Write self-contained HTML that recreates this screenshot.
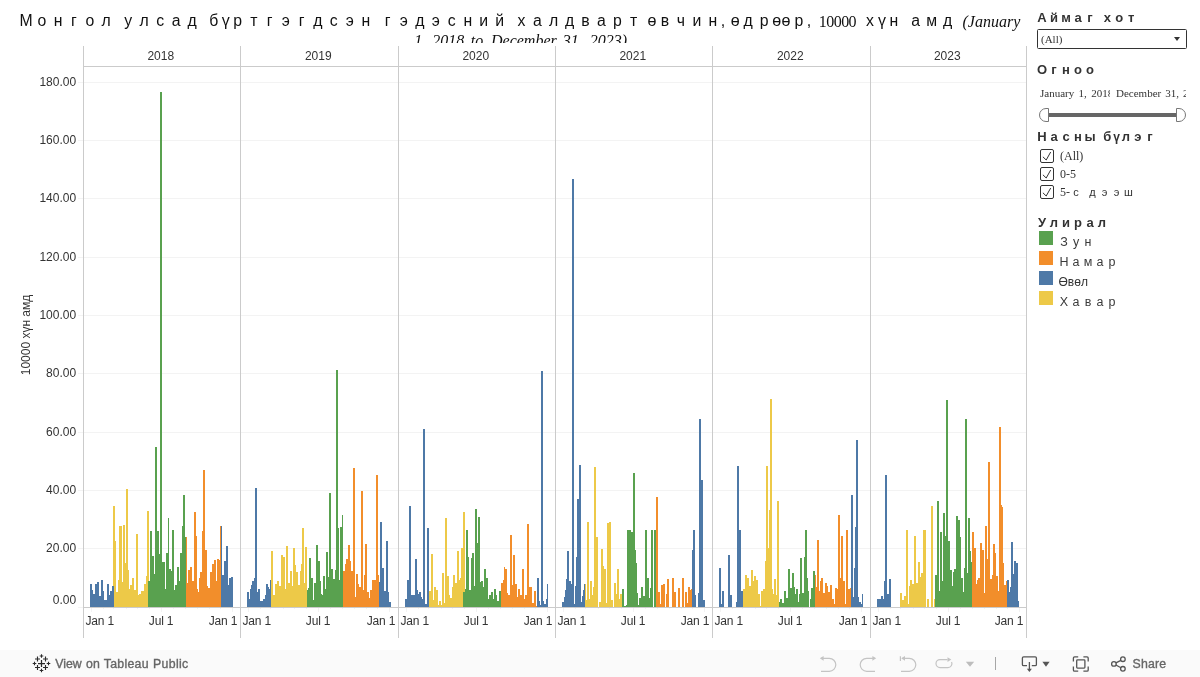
<!DOCTYPE html>
<html><head><meta charset="utf-8"><title>Tableau</title>
<style>
html,body{margin:0;padding:0;background:#fff;}
body{width:1200px;height:677px;position:relative;overflow:hidden;font-family:"Liberation Sans",sans-serif;color:#333;}
.w{position:absolute;white-space:nowrap;line-height:20px;height:20px;}
.fw{display:inline-block;text-align:center;}
.pr{display:inline-block;}
#title{position:absolute;left:0;top:0;width:1037px;height:43px;overflow:hidden;color:#111;}
.ser{font-family:"Liberation Serif",serif;}
.vl{position:absolute;width:1px;background:#cbcbcb;z-index:2;}
.hl{position:absolute;height:1px;background:#cbcbcb;}
.gl{position:absolute;height:1px;background:#f3f3f3;left:78px;width:948px;}
.yl{position:absolute;left:21.1px;width:55px;text-align:right;font-size:12px;line-height:14px;color:#333;}
.yr{position:absolute;font-size:12px;line-height:14px;color:#333;text-align:center;}
.xl{position:absolute;font-size:12px;letter-spacing:-0.15px;line-height:14px;color:#333;white-space:nowrap;top:614.4px;}
.sb{position:absolute;font-weight:bold;color:#333;white-space:nowrap;line-height:14px;}
.st{position:absolute;font-family:"Liberation Serif",serif;font-size:11px;color:#333;white-space:nowrap;line-height:14px;}
.cb{position:absolute;left:1040px;width:12px;height:12px;border:1px solid #333;border-radius:2px;background:#fff;}
.sw{position:absolute;left:1039px;width:14px;height:14px;}
#tb{position:absolute;left:0;top:650px;width:1200px;height:27px;background:#fafafa;}
#root{position:absolute;left:0;top:0;width:1200px;height:677px;will-change:transform;}
</style></head><body><div id="root">
<div id="title"><div class="w " style="left:18px;top:11.3px"><span class="fw" style="width:16px;font-size:15.8px">М</span><span class="fw" style="width:16px;font-size:15.8px">о</span><span class="fw" style="width:16px;font-size:15.8px">н</span><span class="fw" style="width:16px;font-size:15.8px">г</span><span class="fw" style="width:16px;font-size:15.8px">о</span><span class="fw" style="width:16px;font-size:15.8px">л</span></div><div class="w " style="left:120.2px;top:11.3px"><span class="fw" style="width:16px;font-size:15.8px">у</span><span class="fw" style="width:16px;font-size:15.8px">л</span><span class="fw" style="width:16px;font-size:15.8px">с</span><span class="fw" style="width:16px;font-size:15.8px">а</span><span class="fw" style="width:16px;font-size:15.8px">д</span></div><div class="w " style="left:205.75px;top:11.3px"><span class="fw" style="width:16px;font-size:15.8px">б</span><span class="pr" style="font-size:16px">ү</span><span class="fw" style="width:16px;font-size:15.8px">р</span><span class="fw" style="width:16px;font-size:15.8px">т</span><span class="fw" style="width:16px;font-size:15.8px">г</span><span class="fw" style="width:16px;font-size:15.8px">э</span><span class="fw" style="width:16px;font-size:15.8px">г</span><span class="fw" style="width:16px;font-size:15.8px">д</span><span class="fw" style="width:16px;font-size:15.8px">с</span><span class="fw" style="width:16px;font-size:15.8px">э</span><span class="fw" style="width:16px;font-size:15.8px">н</span></div><div class="w " style="left:379.75px;top:11.3px"><span class="fw" style="width:16px;font-size:15.8px">г</span><span class="fw" style="width:16px;font-size:15.8px">э</span><span class="fw" style="width:16px;font-size:15.8px">д</span><span class="fw" style="width:16px;font-size:15.8px">э</span><span class="fw" style="width:16px;font-size:15.8px">с</span><span class="fw" style="width:16px;font-size:15.8px">н</span><span class="fw" style="width:16px;font-size:15.8px">и</span><span class="fw" style="width:16px;font-size:15.8px">й</span></div><div class="w " style="left:513.5px;top:11.3px"><span class="fw" style="width:16px;font-size:15.8px">х</span><span class="fw" style="width:16px;font-size:15.8px">а</span><span class="fw" style="width:16px;font-size:15.8px">л</span><span class="fw" style="width:16px;font-size:15.8px">д</span><span class="fw" style="width:16px;font-size:15.8px">в</span><span class="fw" style="width:16px;font-size:15.8px">а</span><span class="fw" style="width:16px;font-size:15.8px">р</span><span class="fw" style="width:16px;font-size:15.8px">т</span></div><div class="w " style="left:647.5px;top:11.3px"><span class="pr" style="font-size:16px;width:9.33px">ө</span><span class="fw" style="width:16px;font-size:15.8px">в</span><span class="fw" style="width:16px;font-size:15.8px">ч</span><span class="fw" style="width:16px;font-size:15.8px">и</span><span class="fw" style="width:16px;font-size:15.8px">н</span><span class="pr" style="font-size:16px">,</span></div><div class="w " style="left:730.8px;top:11.3px"><span class="pr" style="font-size:16px;width:9.33px">ө</span><span class="fw" style="width:16px;font-size:15.8px">д</span><span class="fw" style="width:16px;font-size:15.8px">р</span><span class="pr" style="font-size:16px;width:9.33px">ө</span><span class="pr" style="font-size:16px;width:9.33px">ө</span><span class="fw" style="width:16px;font-size:15.8px">р</span><span class="pr" style="font-size:16px">,</span></div><div class="w " style="left:818.8px;top:11.8px"><span class="ser" style="font-size:16px;letter-spacing:-0.55px">10000</span></div><div class="w " style="left:861.9px;top:11.3px"><span class="fw" style="width:16px;font-size:15.8px">х</span><span class="pr" style="font-size:16px">ү</span><span class="fw" style="width:16px;font-size:15.8px">н</span></div><div class="w " style="left:907.6px;top:11.3px"><span class="fw" style="width:16px;font-size:15.8px">а</span><span class="fw" style="width:16px;font-size:15.8px">м</span><span class="fw" style="width:16px;font-size:15.8px">д</span></div><div class="w " style="left:962.5px;top:12.0px"><span class="ser" style="font-size:16px;font-style:italic">(January</span></div><div class="w " style="left:414.3px;top:30.6px"><span class="ser" style="font-size:16px;font-style:italic">1,</span></div><div class="w " style="left:432.3px;top:30.6px"><span class="ser" style="font-size:16px;font-style:italic">2018</span></div><div class="w " style="left:470.7px;top:30.6px"><span class="ser" style="font-size:16px;font-style:italic">to</span></div><div class="w " style="left:491px;top:30.6px"><span class="ser" style="font-size:16px;font-style:italic">December</span></div><div class="w " style="left:562.7px;top:30.6px"><span class="ser" style="font-size:16px;font-style:italic">31,</span></div><div class="w " style="left:589.7px;top:30.6px"><span class="ser" style="font-size:16px;font-style:italic">2023)</span></div></div>
<div class="vl" style="left:83px;top:46px;height:592px"></div><div class="vl" style="left:240px;top:46px;height:592px"></div><div class="vl" style="left:398px;top:46px;height:592px"></div><div class="vl" style="left:555px;top:46px;height:592px"></div><div class="vl" style="left:712px;top:46px;height:592px"></div><div class="vl" style="left:870px;top:46px;height:592px"></div><div class="vl" style="left:1026px;top:46px;height:592px"></div><div class="hl" style="left:83px;top:66px;width:944px"></div><div class="yl" style="top:593.0px">0.00</div><div class="gl" style="top:548px"></div><div class="yl" style="top:541.3px">20.00</div><div class="gl" style="top:490px"></div><div class="yl" style="top:483.3px">40.00</div><div class="gl" style="top:432px"></div><div class="yl" style="top:425.3px">60.00</div><div class="gl" style="top:373px"></div><div class="yl" style="top:366.3px">80.00</div><div class="gl" style="top:315px"></div><div class="yl" style="top:308.3px">100.00</div><div class="gl" style="top:257px"></div><div class="yl" style="top:250.3px">120.00</div><div class="gl" style="top:198px"></div><div class="yl" style="top:191.3px">140.00</div><div class="gl" style="top:140px"></div><div class="yl" style="top:133.3px">160.00</div><div class="gl" style="top:82px"></div><div class="yl" style="top:75.3px">180.00</div><div class="gl" style="top:607px;width:6px"></div><div class="hl" style="left:83px;top:607px;width:944px"></div><div class="yr" style="left:82.3px;width:157px;top:49px">2018</div><div class="yr" style="left:239.3px;width:158px;top:49px">2019</div><div class="yr" style="left:397.3px;width:157px;top:49px">2020</div><div class="yr" style="left:554.3px;width:157px;top:49px">2021</div><div class="yr" style="left:711.3px;width:158px;top:49px">2022</div><div class="yr" style="left:869.3px;width:156px;top:49px">2023</div><div class="xl" style="left:85.5px">Jan 1</div><div class="xl" style="left:148.8px">Jul 1</div><div class="xl" style="left:208.7px">Jan 1</div><div style="position:absolute;left:91px;top:608px;width:1px;height:4px;background:#f3f3f3"></div><div style="position:absolute;left:103px;top:608px;width:1px;height:1px;background:#f3f3f3"></div><div style="position:absolute;left:113px;top:608px;width:1px;height:1px;background:#f3f3f3"></div><div style="position:absolute;left:126px;top:608px;width:1px;height:1px;background:#f3f3f3"></div><div style="position:absolute;left:137px;top:608px;width:1px;height:1px;background:#f3f3f3"></div><div style="position:absolute;left:149px;top:608px;width:1px;height:1px;background:#f3f3f3"></div><div style="position:absolute;left:161px;top:608px;width:1px;height:4px;background:#f3f3f3"></div><div style="position:absolute;left:173px;top:608px;width:1px;height:1px;background:#f3f3f3"></div><div style="position:absolute;left:185px;top:608px;width:1px;height:1px;background:#f3f3f3"></div><div style="position:absolute;left:197px;top:608px;width:1px;height:1px;background:#f3f3f3"></div><div style="position:absolute;left:209px;top:608px;width:1px;height:1px;background:#f3f3f3"></div><div style="position:absolute;left:220px;top:608px;width:1px;height:1px;background:#f3f3f3"></div><div style="position:absolute;left:232px;top:608px;width:1px;height:4px;background:#f3f3f3"></div><div class="xl" style="left:242.5px">Jan 1</div><div class="xl" style="left:305.8px">Jul 1</div><div class="xl" style="left:366.7px">Jan 1</div><div style="position:absolute;left:248px;top:608px;width:1px;height:4px;background:#f3f3f3"></div><div style="position:absolute;left:260px;top:608px;width:1px;height:1px;background:#f3f3f3"></div><div style="position:absolute;left:270px;top:608px;width:1px;height:1px;background:#f3f3f3"></div><div style="position:absolute;left:283px;top:608px;width:1px;height:1px;background:#f3f3f3"></div><div style="position:absolute;left:294px;top:608px;width:1px;height:1px;background:#f3f3f3"></div><div style="position:absolute;left:306px;top:608px;width:1px;height:1px;background:#f3f3f3"></div><div style="position:absolute;left:318px;top:608px;width:1px;height:4px;background:#f3f3f3"></div><div style="position:absolute;left:330px;top:608px;width:1px;height:1px;background:#f3f3f3"></div><div style="position:absolute;left:342px;top:608px;width:1px;height:1px;background:#f3f3f3"></div><div style="position:absolute;left:354px;top:608px;width:1px;height:1px;background:#f3f3f3"></div><div style="position:absolute;left:366px;top:608px;width:1px;height:1px;background:#f3f3f3"></div><div style="position:absolute;left:377px;top:608px;width:1px;height:1px;background:#f3f3f3"></div><div style="position:absolute;left:389px;top:608px;width:1px;height:4px;background:#f3f3f3"></div><div class="xl" style="left:400.5px">Jan 1</div><div class="xl" style="left:463.8px">Jul 1</div><div class="xl" style="left:523.7px">Jan 1</div><div style="position:absolute;left:406px;top:608px;width:1px;height:4px;background:#f3f3f3"></div><div style="position:absolute;left:418px;top:608px;width:1px;height:1px;background:#f3f3f3"></div><div style="position:absolute;left:428px;top:608px;width:1px;height:1px;background:#f3f3f3"></div><div style="position:absolute;left:441px;top:608px;width:1px;height:1px;background:#f3f3f3"></div><div style="position:absolute;left:452px;top:608px;width:1px;height:1px;background:#f3f3f3"></div><div style="position:absolute;left:464px;top:608px;width:1px;height:1px;background:#f3f3f3"></div><div style="position:absolute;left:476px;top:608px;width:1px;height:4px;background:#f3f3f3"></div><div style="position:absolute;left:488px;top:608px;width:1px;height:1px;background:#f3f3f3"></div><div style="position:absolute;left:500px;top:608px;width:1px;height:1px;background:#f3f3f3"></div><div style="position:absolute;left:512px;top:608px;width:1px;height:1px;background:#f3f3f3"></div><div style="position:absolute;left:524px;top:608px;width:1px;height:1px;background:#f3f3f3"></div><div style="position:absolute;left:535px;top:608px;width:1px;height:1px;background:#f3f3f3"></div><div style="position:absolute;left:547px;top:608px;width:1px;height:4px;background:#f3f3f3"></div><div class="xl" style="left:557.5px">Jan 1</div><div class="xl" style="left:620.8px">Jul 1</div><div class="xl" style="left:680.7px">Jan 1</div><div style="position:absolute;left:563px;top:608px;width:1px;height:4px;background:#f3f3f3"></div><div style="position:absolute;left:575px;top:608px;width:1px;height:1px;background:#f3f3f3"></div><div style="position:absolute;left:585px;top:608px;width:1px;height:1px;background:#f3f3f3"></div><div style="position:absolute;left:598px;top:608px;width:1px;height:1px;background:#f3f3f3"></div><div style="position:absolute;left:609px;top:608px;width:1px;height:1px;background:#f3f3f3"></div><div style="position:absolute;left:621px;top:608px;width:1px;height:1px;background:#f3f3f3"></div><div style="position:absolute;left:633px;top:608px;width:1px;height:4px;background:#f3f3f3"></div><div style="position:absolute;left:645px;top:608px;width:1px;height:1px;background:#f3f3f3"></div><div style="position:absolute;left:657px;top:608px;width:1px;height:1px;background:#f3f3f3"></div><div style="position:absolute;left:669px;top:608px;width:1px;height:1px;background:#f3f3f3"></div><div style="position:absolute;left:681px;top:608px;width:1px;height:1px;background:#f3f3f3"></div><div style="position:absolute;left:692px;top:608px;width:1px;height:1px;background:#f3f3f3"></div><div style="position:absolute;left:704px;top:608px;width:1px;height:4px;background:#f3f3f3"></div><div class="xl" style="left:714.5px">Jan 1</div><div class="xl" style="left:777.8px">Jul 1</div><div class="xl" style="left:838.7px">Jan 1</div><div style="position:absolute;left:720px;top:608px;width:1px;height:4px;background:#f3f3f3"></div><div style="position:absolute;left:732px;top:608px;width:1px;height:1px;background:#f3f3f3"></div><div style="position:absolute;left:742px;top:608px;width:1px;height:1px;background:#f3f3f3"></div><div style="position:absolute;left:755px;top:608px;width:1px;height:1px;background:#f3f3f3"></div><div style="position:absolute;left:766px;top:608px;width:1px;height:1px;background:#f3f3f3"></div><div style="position:absolute;left:778px;top:608px;width:1px;height:1px;background:#f3f3f3"></div><div style="position:absolute;left:790px;top:608px;width:1px;height:4px;background:#f3f3f3"></div><div style="position:absolute;left:802px;top:608px;width:1px;height:1px;background:#f3f3f3"></div><div style="position:absolute;left:814px;top:608px;width:1px;height:1px;background:#f3f3f3"></div><div style="position:absolute;left:826px;top:608px;width:1px;height:1px;background:#f3f3f3"></div><div style="position:absolute;left:838px;top:608px;width:1px;height:1px;background:#f3f3f3"></div><div style="position:absolute;left:849px;top:608px;width:1px;height:1px;background:#f3f3f3"></div><div style="position:absolute;left:861px;top:608px;width:1px;height:4px;background:#f3f3f3"></div><div class="xl" style="left:872.5px">Jan 1</div><div class="xl" style="left:935.8px">Jul 1</div><div class="xl" style="left:994.7px">Jan 1</div><div style="position:absolute;left:878px;top:608px;width:1px;height:4px;background:#f3f3f3"></div><div style="position:absolute;left:890px;top:608px;width:1px;height:1px;background:#f3f3f3"></div><div style="position:absolute;left:900px;top:608px;width:1px;height:1px;background:#f3f3f3"></div><div style="position:absolute;left:913px;top:608px;width:1px;height:1px;background:#f3f3f3"></div><div style="position:absolute;left:924px;top:608px;width:1px;height:1px;background:#f3f3f3"></div><div style="position:absolute;left:936px;top:608px;width:1px;height:1px;background:#f3f3f3"></div><div style="position:absolute;left:948px;top:608px;width:1px;height:4px;background:#f3f3f3"></div><div style="position:absolute;left:960px;top:608px;width:1px;height:1px;background:#f3f3f3"></div><div style="position:absolute;left:972px;top:608px;width:1px;height:1px;background:#f3f3f3"></div><div style="position:absolute;left:984px;top:608px;width:1px;height:1px;background:#f3f3f3"></div><div style="position:absolute;left:996px;top:608px;width:1px;height:1px;background:#f3f3f3"></div><div style="position:absolute;left:1007px;top:608px;width:1px;height:1px;background:#f3f3f3"></div><div style="position:absolute;left:1019px;top:608px;width:1px;height:4px;background:#f3f3f3"></div><div style="position:absolute;left:-24px;top:328px;width:100px;height:14px;line-height:14px;font-size:12px;text-align:center;transform:rotate(-90deg);color:#333;white-space:nowrap">10000 хүн амд</div><svg width="1200" height="677" viewBox="0 0 1200 677" style="position:absolute;left:0;top:0" shape-rendering="crispEdges"><rect x="147.4" y="511.3" width="1.6" height="95.7" fill="#EDC948"/><rect x="113.2" y="505.8" width="1.8" height="101.2" fill="#EDC948"/><rect x="463.3" y="511.9" width="1.8" height="95.1" fill="#EDC948"/><path fill="#4E79A7" d="M90 607V584.1h1V607zM91 607V584.1h1V607zM92 607V590.2h1V607zM93 607V594.4h1V607zM94 607V594.4h1V607zM95 607V584.4h1V607zM96 607V584.4h1V607zM97 607V582.3h1V607zM98 607V582.3h1V607zM99 607V596.0h1V607zM100 607V596.0h1V607zM101 607V580.3h1V607zM102 607V580.3h1V607zM103 607V591.1h1V607zM104 607V600.2h1V607zM105 607V600.2h1V607zM106 607V600.2h1V607zM107 607V584.1h1V607zM108 607V584.1h1V607zM109 607V595.2h1V607zM110 607V591.1h1V607zM111 607V591.1h1V607zM112 607V586.1h1V607zM113 607V586.1h1V607zM221 607V525.7h1V607zM222 607V575.3h1V607zM223 607V575.3h1V607zM224 607V561.3h1V607zM225 607V561.3h1V607zM226 607V546.0h1V607zM227 607V546.0h1V607zM228 607V585.3h1V607zM229 607V578.1h1V607zM230 607V578.1h1V607zM231 607V577.0h1V607zM232 607V577.0h1V607zM247 607V592.2h1V607zM248 607V592.2h1V607zM249 607V598.5h1V607zM250 607V589.4h1V607zM251 607V585.3h1V607zM252 607V581.1h1V607zM253 607V581.1h1V607zM254 607V577.8h1V607zM255 607V488.2h1V607zM256 607V488.2h1V607zM257 607V591.9h1V607zM258 607V589.4h1V607zM259 607V589.4h1V607zM260 607V601.0h1V607zM261 607V601.3h1V607zM262 607V601.3h1V607zM263 607V598.5h1V607zM264 607V598.5h1V607zM265 607V594.7h1V607zM266 607V584.1h1V607zM267 607V584.1h1V607zM268 607V587.4h1V607zM269 607V589.4h1V607zM270 607V580.3h1V607zM379 607V582.0h1V607zM380 607V522.0h1V607zM381 607V522.0h1V607zM382 607V568.2h1V607zM383 607V568.2h1V607zM384 607V591.1h1V607zM385 607V591.1h1V607zM386 607V541.1h1V607zM387 607V541.1h1V607zM388 607V592.4h1V607zM389 607V602.3h1V607zM390 607V602.3h1V607zM405 607V599.0h1V607zM406 607V599.0h1V607zM407 607V580.3h1V607zM408 607V580.3h1V607zM409 607V506.1h1V607zM410 607V506.1h1V607zM411 607V595.2h1V607zM412 607V595.2h1V607zM413 607V595.2h1V607zM414 607V595.2h1V607zM415 607V559.1h1V607zM416 607V559.1h1V607zM417 607V590.2h1V607zM418 607V594.4h1V607zM419 607V591.9h1V607zM420 607V591.9h1V607zM421 607V596.9h1V607zM422 607V598.5h1V607zM423 607V429.1h1V607zM424 607V429.1h1V607zM425 607V604.0h1V607zM426 607V604.0h1V607zM427 607V528.1h1V607zM428 607V528.1h1V607zM537 607V577.8h1V607zM538 607V577.8h1V607zM539 607V601.0h1V607zM540 607V605.1h1V607zM541 607V371.0h1V607zM542 607V371.0h1V607zM543 607V601.0h1V607zM544 607V604.3h1V607zM545 607V604.3h1V607zM546 607V599.3h1V607zM547 607V584.1h1V607zM562 607V602.3h1V607zM563 607V602.3h1V607zM564 607V597.4h1V607zM565 607V590.2h1V607zM566 607V579.1h1V607zM567 607V551.3h1V607zM568 607V551.3h1V607zM569 607V581.1h1V607zM570 607V581.1h1V607zM571 607V583.6h1V607zM572 607V178.5h1V607zM573 607V178.5h1V607zM574 607V604.3h1V607zM575 607V586.1h1V607zM576 607V557.1h1V607zM577 607V499.3h1V607zM578 607V499.3h1V607zM579 607V465.0h1V607zM580 607V465.0h1V607zM581 607V602.3h1V607zM582 607V596.0h1V607zM583 607V590.2h1V607zM584 607V584.4h1V607zM692 607V549.7h1V607zM693 607V530.1h1V607zM694 607V530.1h1V607zM695 607V595.2h1V607zM696 607V606.8h1V607zM697 607V606.8h1V607zM698 607V592.7h1V607zM699 607V419.1h1V607zM700 607V419.1h1V607zM701 607V480.2h1V607zM702 607V480.2h1V607zM703 607V600.2h1V607zM704 607V600.2h1V607zM719 607V567.9h1V607zM720 607V567.9h1V607zM721 607V603.5h1V607zM722 607V591.1h1V607zM723 607V591.1h1V607zM724 607V606.8h1V607zM725 607V606.8h1V607zM726 607V606.8h1V607zM727 607V606.8h1V607zM728 607V555.1h1V607zM729 607V555.1h1V607zM730 607V595.2h1V607zM731 607V595.2h1V607zM732 607V606.8h1V607zM733 607V606.8h1V607zM734 607V606.8h1V607zM735 607V606.8h1V607zM736 607V602.3h1V607zM737 607V466.1h1V607zM738 607V466.1h1V607zM739 607V530.1h1V607zM740 607V530.1h1V607zM741 607V591.1h1V607zM742 607V591.1h1V607zM851 607V495.3h1V607zM852 607V495.3h1V607zM853 607V596.9h1V607zM854 607V567.9h1V607zM855 607V527.3h1V607zM856 607V440.2h1V607zM857 607V440.2h1V607zM858 607V596.9h1V607zM859 607V601.8h1V607zM860 607V601.8h1V607zM861 607V604.3h1V607zM862 607V594.4h1V607zM877 607V599.0h1V607zM878 607V599.0h1V607zM879 607V599.0h1V607zM880 607V599.0h1V607zM881 607V596.0h1V607zM882 607V596.0h1V607zM883 607V599.0h1V607zM884 607V581.1h1V607zM885 607V475.3h1V607zM886 607V475.3h1V607zM887 607V594.0h1V607zM888 607V594.0h1V607zM889 607V579.1h1V607zM890 607V579.1h1V607zM891 607V606.8h1V607zM892 607V606.8h1V607zM893 607V606.8h1V607zM894 607V606.8h1V607zM895 607V606.8h1V607zM896 607V606.8h1V607zM897 607V606.8h1V607zM898 607V606.8h1V607zM899 607V606.8h1V607zM1007 607V580.3h1V607zM1008 607V580.3h1V607zM1009 607V591.9h1V607zM1010 607V586.9h1V607zM1011 607V542.2h1V607zM1012 607V542.2h1V607zM1013 607V573.7h1V607zM1014 607V561.3h1V607zM1015 607V561.3h1V607zM1016 607V562.9h1V607zM1017 607V562.9h1V607zM1018 607V601.0h1V607z"/><path fill="#EDC948" d="M114 607V505.8h1V607zM115 607V541.4h1V607zM116 607V591.9h1V607zM117 607V591.9h1V607zM118 607V580.3h1V607zM119 607V526.2h1V607zM120 607V526.2h1V607zM121 607V526.2h1V607zM122 607V582.0h1V607zM123 607V524.5h1V607zM124 607V524.5h1V607zM125 607V562.9h1V607zM126 607V489.0h1V607zM127 607V489.0h1V607zM128 607V569.5h1V607zM129 607V589.4h1V607zM130 607V585.3h1V607zM131 607V585.3h1V607zM132 607V578.1h1V607zM133 607V578.1h1V607zM134 607V590.2h1V607zM135 607V590.2h1V607zM136 607V534.3h1V607zM137 607V534.3h1V607zM138 607V595.2h1V607zM139 607V594.0h1V607zM140 607V594.0h1V607zM141 607V591.1h1V607zM142 607V591.1h1V607zM143 607V591.1h1V607zM144 607V584.4h1V607zM145 607V584.4h1V607zM146 607V576.2h1V607zM147 607V576.2h1V607zM271 607V551.3h1V607zM272 607V551.3h1V607zM273 607V595.2h1V607zM274 607V595.2h1V607zM275 607V583.6h1V607zM276 607V583.6h1V607zM277 607V581.1h1V607zM278 607V581.1h1V607zM279 607V586.1h1V607zM280 607V586.1h1V607zM281 607V555.1h1V607zM282 607V555.1h1V607zM283 607V557.1h1V607zM284 607V557.1h1V607zM285 607V589.4h1V607zM286 607V546.4h1V607zM287 607V546.4h1V607zM288 607V582.8h1V607zM289 607V582.8h1V607zM290 607V571.2h1V607zM291 607V571.2h1V607zM292 607V586.1h1V607zM293 607V548.0h1V607zM294 607V548.0h1V607zM295 607V565.4h1V607zM296 607V572.0h1V607zM297 607V572.0h1V607zM298 607V585.3h1V607zM299 607V585.3h1V607zM300 607V571.2h1V607zM301 607V564.2h1V607zM302 607V528.1h1V607zM303 607V528.1h1V607zM304 607V582.8h1V607zM305 607V547.2h1V607zM306 607V547.2h1V607zM429 607V591.1h1V607zM430 607V591.1h1V607zM431 607V553.8h1V607zM432 607V553.8h1V607zM433 607V600.2h1V607zM434 607V586.9h1V607zM435 607V586.9h1V607zM436 607V590.2h1V607zM437 607V590.2h1V607zM438 607V605.1h1V607zM439 607V601.0h1V607zM440 607V601.0h1V607zM441 607V605.1h1V607zM442 607V572.8h1V607zM443 607V572.8h1V607zM444 607V602.6h1V607zM445 607V517.9h1V607zM446 607V517.9h1V607zM447 607V576.2h1V607zM448 607V576.2h1V607zM449 607V595.2h1V607zM450 607V597.7h1V607zM451 607V597.7h1V607zM452 607V586.9h1V607zM453 607V574.8h1V607zM454 607V574.8h1V607zM455 607V582.8h1V607zM456 607V582.8h1V607zM457 607V551.0h1V607zM458 607V551.0h1V607zM459 607V580.3h1V607zM460 607V577.8h1V607zM461 607V548.0h1V607zM462 607V548.0h1V607zM585 607V584.4h1V607zM586 607V600.2h1V607zM587 607V522.4h1V607zM588 607V522.4h1V607zM589 607V599.3h1V607zM590 607V581.1h1V607zM591 607V581.1h1V607zM592 607V595.2h1V607zM593 607V586.9h1V607zM594 607V467.1h1V607zM595 607V467.1h1V607zM596 607V537.3h1V607zM597 607V537.3h1V607zM598 607V606.8h1V607zM599 607V602.3h1V607zM600 607V602.3h1V607zM601 607V549.3h1V607zM602 607V549.3h1V607zM603 607V566.2h1V607zM604 607V569.2h1V607zM605 607V569.2h1V607zM606 607V602.6h1V607zM607 607V523.2h1V607zM608 607V523.2h1V607zM609 607V522.0h1V607zM610 607V522.0h1V607zM611 607V600.2h1V607zM612 607V600.2h1V607zM613 607V606.8h1V607zM614 607V583.3h1V607zM615 607V583.3h1V607zM616 607V593.5h1V607zM617 607V569.2h1V607zM618 607V569.2h1V607zM619 607V599.3h1V607zM620 607V594.4h1V607zM621 607V594.4h1V607zM743 607V589.4h1V607zM744 607V589.4h1V607zM745 607V575.3h1V607zM746 607V575.3h1V607zM747 607V577.5h1V607zM748 607V577.5h1V607zM749 607V586.1h1V607zM750 607V586.1h1V607zM751 607V570.4h1V607zM752 607V570.4h1V607zM753 607V581.1h1V607zM754 607V576.2h1V607zM755 607V576.2h1V607zM756 607V579.5h1V607zM757 607V579.5h1V607zM758 607V593.5h1V607zM759 607V593.5h1V607zM760 607V606.0h1V607zM761 607V591.1h1V607zM762 607V591.1h1V607zM763 607V589.4h1V607zM764 607V589.4h1V607zM765 607V561.3h1V607zM766 607V466.1h1V607zM767 607V466.1h1V607zM768 607V548.0h1V607zM769 607V509.9h1V607zM770 607V399.1h1V607zM771 607V399.1h1V607zM772 607V589.4h1V607zM773 607V594.4h1V607zM774 607V579.1h1V607zM775 607V579.1h1V607zM776 607V595.2h1V607zM777 607V501.3h1V607zM778 607V501.3h1V607zM900 607V593.0h1V607zM901 607V593.0h1V607zM902 607V600.2h1V607zM903 607V600.2h1V607zM904 607V596.0h1V607zM905 607V596.0h1V607zM906 607V530.1h1V607zM907 607V530.1h1V607zM908 607V604.3h1V607zM909 607V586.1h1V607zM910 607V580.3h1V607zM911 607V580.3h1V607zM912 607V584.1h1V607zM913 607V584.1h1V607zM914 607V536.1h1V607zM915 607V536.1h1V607zM916 607V582.8h1V607zM917 607V582.8h1V607zM918 607V562.1h1V607zM919 607V562.1h1V607zM920 607V577.0h1V607zM921 607V572.8h1V607zM922 607V572.8h1V607zM923 607V530.1h1V607zM924 607V530.1h1V607zM925 607V530.1h1V607zM926 607V606.8h1V607zM927 607V599.0h1V607zM928 607V599.0h1V607zM929 607V606.8h1V607zM930 607V606.8h1V607zM931 607V506.1h1V607zM932 607V506.1h1V607zM933 607V606.8h1V607zM934 607V599.0h1V607z"/><path fill="#59A14F" d="M148 607V581.1h1V607zM149 607V581.1h1V607zM150 607V531.1h1V607zM151 607V531.1h1V607zM152 607V555.5h1V607zM153 607V555.5h1V607zM154 607V573.7h1V607zM155 607V447.1h1V607zM156 607V447.1h1V607zM157 607V531.1h1V607zM158 607V531.1h1V607zM159 607V553.8h1V607zM160 607V92.0h1V607zM161 607V92.0h1V607zM162 607V562.1h1V607zM163 607V562.1h1V607zM164 607V562.1h1V607zM165 607V589.4h1V607zM166 607V553.0h1V607zM167 607V553.0h1V607zM168 607V517.9h1V607zM169 607V568.7h1V607zM170 607V568.7h1V607zM171 607V571.2h1V607zM172 607V529.8h1V607zM173 607V529.8h1V607zM174 607V590.2h1V607zM175 607V585.3h1V607zM176 607V585.3h1V607zM177 607V567.1h1V607zM178 607V567.1h1V607zM179 607V581.1h1V607zM180 607V553.0h1V607zM181 607V553.0h1V607zM182 607V526.2h1V607zM183 607V495.1h1V607zM184 607V495.1h1V607zM185 607V537.3h1V607zM307 607V590.2h1V607zM308 607V587.7h1V607zM309 607V557.9h1V607zM310 607V557.9h1V607zM311 607V577.8h1V607zM312 607V577.8h1V607zM313 607V600.2h1V607zM314 607V582.8h1V607zM315 607V582.8h1V607zM316 607V545.0h1V607zM317 607V545.0h1V607zM318 607V561.3h1V607zM319 607V561.3h1V607zM320 607V581.1h1V607zM321 607V593.5h1V607zM322 607V595.2h1V607zM323 607V576.2h1V607zM324 607V576.2h1V607zM325 607V588.6h1V607zM326 607V552.2h1V607zM327 607V552.2h1V607zM328 607V577.0h1V607zM329 607V493.1h1V607zM330 607V493.1h1V607zM331 607V569.2h1V607zM332 607V569.2h1V607zM333 607V579.1h1V607zM334 607V579.1h1V607zM335 607V569.5h1V607zM336 607V369.8h1V607zM337 607V369.8h1V607zM338 607V528.1h1V607zM339 607V579.5h1V607zM340 607V526.5h1V607zM341 607V526.5h1V607zM342 607V515.2h1V607zM463 607V591.9h1V607zM464 607V591.9h1V607zM465 607V589.4h1V607zM466 607V530.1h1V607zM467 607V530.1h1V607zM468 607V557.1h1V607zM469 607V590.2h1V607zM470 607V590.2h1V607zM471 607V557.9h1V607zM472 607V553.0h1V607zM473 607V553.0h1V607zM474 607V586.1h1V607zM475 607V509.1h1V607zM476 607V509.1h1V607zM477 607V543.0h1V607zM478 607V516.6h1V607zM479 607V516.6h1V607zM480 607V582.0h1V607zM481 607V580.8h1V607zM482 607V580.8h1V607zM483 607V586.9h1V607zM484 607V569.2h1V607zM485 607V569.2h1V607zM486 607V577.8h1V607zM487 607V577.8h1V607zM488 607V598.5h1V607zM489 607V595.2h1V607zM490 607V595.2h1V607zM491 607V591.9h1V607zM492 607V591.9h1V607zM493 607V599.3h1V607zM494 607V589.4h1V607zM495 607V589.4h1V607zM496 607V595.2h1V607zM497 607V601.0h1V607zM498 607V601.0h1V607zM499 607V591.1h1V607zM500 607V591.1h1V607zM622 607V589.4h1V607zM623 607V589.4h1V607zM624 607V606.0h1V607zM625 607V606.0h1V607zM626 607V605.1h1V607zM627 607V530.1h1V607zM628 607V530.1h1V607zM629 607V530.1h1V607zM630 607V530.1h1V607zM631 607V532.3h1V607zM632 607V532.3h1V607zM633 607V473.3h1V607zM634 607V473.3h1V607zM635 607V549.7h1V607zM636 607V562.9h1V607zM637 607V592.7h1V607zM638 607V605.1h1V607zM639 607V598.0h1V607zM640 607V598.0h1V607zM641 607V586.9h1V607zM642 607V586.9h1V607zM643 607V596.0h1V607zM644 607V596.0h1V607zM645 607V530.1h1V607zM646 607V530.1h1V607zM647 607V577.8h1V607zM648 607V577.8h1V607zM649 607V597.7h1V607zM650 607V588.1h1V607zM651 607V530.1h1V607zM652 607V530.1h1V607zM653 607V606.8h1V607zM654 607V530.1h1V607zM655 607V530.1h1V607zM779 607V601.8h1V607zM780 607V598.5h1V607zM781 607V598.5h1V607zM782 607V602.6h1V607zM783 607V602.6h1V607zM784 607V591.1h1V607zM785 607V591.1h1V607zM786 607V597.7h1V607zM787 607V597.7h1V607zM788 607V569.2h1V607zM789 607V569.2h1V607zM790 607V587.7h1V607zM791 607V587.7h1V607zM792 607V572.8h1V607zM793 607V572.8h1V607zM794 607V586.9h1V607zM795 607V594.4h1V607zM796 607V589.1h1V607zM797 607V589.1h1V607zM798 607V601.8h1V607zM799 607V594.4h1V607zM800 607V557.9h1V607zM801 607V557.9h1V607zM802 607V593.0h1V607zM803 607V593.0h1V607zM804 607V557.1h1V607zM805 607V530.1h1V607zM806 607V530.1h1V607zM807 607V577.8h1V607zM808 607V591.1h1V607zM809 607V606.8h1V607zM810 607V599.3h1V607zM811 607V588.1h1V607zM812 607V588.1h1V607zM813 607V571.2h1V607zM814 607V571.2h1V607zM935 607V575.3h1V607zM936 607V575.3h1V607zM937 607V501.3h1V607zM938 607V501.3h1V607zM939 607V591.1h1V607zM940 607V532.3h1V607zM941 607V532.3h1V607zM942 607V581.1h1V607zM943 607V513.2h1V607zM944 607V513.2h1V607zM945 607V536.1h1V607zM946 607V400.1h1V607zM947 607V400.1h1V607zM948 607V540.6h1V607zM949 607V540.6h1V607zM950 607V569.5h1V607zM951 607V570.4h1V607zM952 607V586.1h1V607zM953 607V572.0h1V607zM954 607V569.2h1V607zM955 607V569.2h1V607zM956 607V516.2h1V607zM957 607V516.2h1V607zM958 607V519.9h1V607zM959 607V519.9h1V607zM960 607V537.3h1V607zM961 607V578.1h1V607zM962 607V578.1h1V607zM963 607V591.9h1V607zM964 607V567.9h1V607zM965 607V419.1h1V607zM966 607V419.1h1V607zM967 607V572.8h1V607zM968 607V518.2h1V607zM969 607V518.2h1V607zM970 607V550.5h1V607zM971 607V562.1h1V607z"/><path fill="#F28E2B" d="M186 607V537.3h1V607zM187 607V582.8h1V607zM188 607V569.5h1V607zM189 607V569.5h1V607zM190 607V567.1h1V607zM191 607V567.1h1V607zM192 607V581.1h1V607zM193 607V581.1h1V607zM194 607V511.9h1V607zM195 607V511.9h1V607zM196 607V536.4h1V607zM197 607V589.4h1V607zM198 607V591.9h1V607zM199 607V577.8h1V607zM200 607V572.0h1V607zM201 607V572.0h1V607zM202 607V531.1h1V607zM203 607V470.0h1V607zM204 607V470.0h1V607zM205 607V549.7h1V607zM206 607V549.7h1V607zM207 607V586.1h1V607zM208 607V587.7h1V607zM209 607V587.7h1V607zM210 607V572.0h1V607zM211 607V572.0h1V607zM212 607V564.2h1V607zM213 607V564.2h1V607zM214 607V559.9h1V607zM215 607V559.9h1V607zM216 607V581.1h1V607zM217 607V558.8h1V607zM218 607V558.8h1V607zM219 607V560.4h1V607zM220 607V525.7h1V607zM343 607V571.2h1V607zM344 607V571.2h1V607zM345 607V564.2h1V607zM346 607V559.3h1V607zM347 607V559.3h1V607zM348 607V545.0h1V607zM349 607V545.0h1V607zM350 607V561.3h1V607zM351 607V571.2h1V607zM352 607V571.2h1V607zM353 607V468.3h1V607zM354 607V468.3h1V607zM355 607V596.9h1V607zM356 607V573.7h1V607zM357 607V573.7h1V607zM358 607V584.4h1V607zM359 607V586.9h1V607zM360 607V586.9h1V607zM361 607V491.1h1V607zM362 607V491.1h1V607zM363 607V590.2h1V607zM364 607V574.5h1V607zM365 607V543.9h1V607zM366 607V543.9h1V607zM367 607V591.9h1V607zM368 607V591.9h1V607zM369 607V597.7h1V607zM370 607V590.2h1V607zM371 607V590.2h1V607zM372 607V580.3h1V607zM373 607V580.3h1V607zM374 607V580.3h1V607zM375 607V580.3h1V607zM376 607V475.3h1V607zM377 607V475.3h1V607zM378 607V575.3h1V607zM501 607V582.8h1V607zM502 607V582.8h1V607zM503 607V579.5h1V607zM504 607V567.1h1V607zM505 607V569.2h1V607zM506 607V569.2h1V607zM507 607V592.7h1V607zM508 607V595.2h1V607zM509 607V595.2h1V607zM510 607V535.1h1V607zM511 607V535.1h1V607zM512 607V585.3h1V607zM513 607V555.1h1V607zM514 607V555.1h1V607zM515 607V584.4h1V607zM516 607V584.4h1V607zM517 607V596.9h1V607zM518 607V589.4h1V607zM519 607V589.4h1V607zM520 607V595.2h1V607zM521 607V595.2h1V607zM522 607V569.2h1V607zM523 607V569.2h1V607zM524 607V599.0h1V607zM525 607V595.2h1V607zM526 607V595.2h1V607zM527 607V524.0h1V607zM528 607V524.0h1V607zM529 607V587.4h1V607zM530 607V587.4h1V607zM531 607V587.4h1V607zM532 607V602.6h1V607zM533 607V602.6h1V607zM534 607V591.1h1V607zM535 607V591.1h1V607zM536 607V606.0h1V607zM656 607V497.3h1V607zM657 607V497.3h1V607zM658 607V591.9h1V607zM659 607V591.9h1V607zM660 607V604.3h1V607zM661 607V585.3h1V607zM662 607V585.3h1V607zM663 607V584.1h1V607zM664 607V584.1h1V607zM665 607V606.8h1V607zM666 607V593.5h1V607zM667 607V579.1h1V607zM668 607V579.1h1V607zM669 607V606.8h1V607zM670 607V606.8h1V607zM671 607V606.8h1V607zM672 607V578.1h1V607zM673 607V578.1h1V607zM674 607V591.9h1V607zM675 607V591.9h1V607zM676 607V606.8h1V607zM677 607V606.8h1V607zM678 607V588.1h1V607zM679 607V588.1h1V607zM680 607V606.8h1V607zM681 607V606.8h1V607zM682 607V578.1h1V607zM683 607V578.1h1V607zM684 607V606.8h1V607zM685 607V591.9h1V607zM686 607V591.9h1V607zM687 607V602.6h1V607zM688 607V586.9h1V607zM689 607V586.9h1V607zM690 607V590.2h1V607zM691 607V589.1h1V607zM815 607V575.3h1V607zM816 607V586.9h1V607zM817 607V540.1h1V607zM818 607V540.1h1V607zM819 607V591.1h1V607zM820 607V581.1h1V607zM821 607V578.1h1V607zM822 607V578.1h1V607zM823 607V593.0h1V607zM824 607V593.0h1V607zM825 607V583.1h1V607zM826 607V583.1h1V607zM827 607V586.1h1V607zM828 607V591.9h1V607zM829 607V591.9h1V607zM830 607V585.3h1V607zM831 607V585.3h1V607zM832 607V598.5h1V607zM833 607V598.5h1V607zM834 607V604.3h1V607zM835 607V588.1h1V607zM836 607V588.1h1V607zM837 607V589.4h1V607zM838 607V515.2h1V607zM839 607V515.2h1V607zM840 607V577.8h1V607zM841 607V536.1h1V607zM842 607V536.1h1V607zM843 607V581.1h1V607zM844 607V581.1h1V607zM845 607V604.3h1V607zM846 607V530.1h1V607zM847 607V530.1h1V607zM848 607V589.4h1V607zM849 607V589.4h1V607zM850 607V588.1h1V607zM972 607V532.3h1V607zM973 607V532.3h1V607zM974 607V548.0h1V607zM975 607V548.0h1V607zM976 607V584.1h1V607zM977 607V580.3h1V607zM978 607V578.1h1V607zM979 607V578.1h1V607zM980 607V543.4h1V607zM981 607V543.4h1V607zM982 607V549.7h1V607zM983 607V549.7h1V607zM984 607V592.7h1V607zM985 607V526.2h1V607zM986 607V526.2h1V607zM987 607V558.8h1V607zM988 607V462.2h1V607zM989 607V462.2h1V607zM990 607V579.1h1V607zM991 607V579.1h1V607zM992 607V574.5h1V607zM993 607V544.4h1V607zM994 607V544.4h1V607zM995 607V553.0h1V607zM996 607V576.2h1V607zM997 607V576.2h1V607zM998 607V591.1h1V607zM999 607V427.2h1V607zM1000 607V427.2h1V607zM1001 607V505.0h1V607zM1002 607V507.0h1V607zM1003 607V562.9h1V607zM1004 607V585.3h1V607zM1005 607V585.3h1V607zM1006 607V581.1h1V607z"/></svg><div class="sb" style="left:1036px;top:10.3px"><span class="fw" style="width:12px;font-size:13px">А</span><span class="fw" style="width:12px;font-size:13px">й</span><span class="fw" style="width:12px;font-size:13px">м</span><span class="fw" style="width:12px;font-size:13px">а</span><span class="fw" style="width:12px;font-size:13px">г</span><span style="display:inline-block;width:5.25px"></span><span class="fw" style="width:12px;font-size:13px">х</span><span class="fw" style="width:12px;font-size:13px">о</span><span class="fw" style="width:12px;font-size:13px">т</span></div><div style="position:absolute;left:1037px;top:29px;width:148px;height:18px;border:1px solid #333;border-radius:1.5px;background:#fff"></div><div class="st" style="left:1041px;top:32px">(All)</div><div style="position:absolute;left:1174px;top:37px;width:0;height:0;border-left:3px solid transparent;border-right:3px solid transparent;border-top:4px solid #333"></div><div class="sb" style="left:1036px;top:62.4px"><span class="fw" style="width:12px;font-size:13px">О</span><span class="fw" style="width:12px;font-size:13px">г</span><span class="fw" style="width:12px;font-size:13px">н</span><span class="fw" style="width:12px;font-size:13px">о</span><span class="fw" style="width:12px;font-size:13px">о</span></div><div class="st" style="left:1040px;top:86px;width:69.5px;overflow:hidden;word-spacing:1.6px">January 1, 2018</div><div class="st" style="left:1116px;top:86px;width:69.5px;overflow:hidden;word-spacing:1.3px">December 31, 2023</div><div style="position:absolute;left:1047px;top:113px;width:131px;height:4px;background:#666"></div><div style="position:absolute;left:1039px;top:108px;width:8px;height:12px;border:1px solid #777;border-radius:7px 0 0 7px;background:#fff"></div><div style="position:absolute;left:1176px;top:108px;width:8px;height:12px;border:1px solid #777;border-radius:0 7px 7px 0;background:#fff"></div><div class="sb" style="left:1036px;top:128.6px"><span class="fw" style="width:12px;font-size:13px">Н</span><span class="fw" style="width:12px;font-size:13px">а</span><span class="fw" style="width:12px;font-size:13px">с</span><span class="fw" style="width:12px;font-size:13px">н</span><span class="fw" style="width:12px;font-size:13px">ы</span><span style="display:inline-block;width:5.25px"></span><span class="fw" style="width:12px;font-size:13px">б</span><span class="pr" style="font-size:12px">ү</span><span class="fw" style="width:12px;font-size:13px">л</span><span class="fw" style="width:12px;font-size:13px">э</span><span class="fw" style="width:12px;font-size:13px">г</span></div><div class="cb" style="top:149px"><svg width="12" height="12" viewBox="0 0 12 12" style="position:absolute;left:0;top:0"><path d="M1.9 6.8 L5.2 10 L9.7 2" fill="none" stroke="#333" stroke-width="1"/></svg></div><div class="st" style="left:1060px;top:148.9px;font-size:12px">(All)</div><div class="cb" style="top:167px"><svg width="12" height="12" viewBox="0 0 12 12" style="position:absolute;left:0;top:0"><path d="M1.9 6.8 L5.2 10 L9.7 2" fill="none" stroke="#333" stroke-width="1"/></svg></div><div class="st" style="left:1060px;top:166.9px;font-size:12px">0-5</div><div class="cb" style="top:185px"><svg width="12" height="12" viewBox="0 0 12 12" style="position:absolute;left:0;top:0"><path d="M1.9 6.8 L5.2 10 L9.7 2" fill="none" stroke="#333" stroke-width="1"/></svg></div><div class="st" style="left:1060px;top:184.9px;font-size:12px">5-<span style="font-family:'Liberation Sans',sans-serif"><span class="fw" style="width:12px;font-size:11px">с</span><span style="display:inline-block;width:4.5px"></span><span class="fw" style="width:12px;font-size:11px">д</span><span class="fw" style="width:12px;font-size:11px">э</span><span class="fw" style="width:12px;font-size:11px">э</span><span class="fw" style="width:12px;font-size:11px">ш</span></span></div><div class="sb" style="left:1036px;top:215.3px"><span class="fw" style="width:12px;font-size:13px">У</span><span class="fw" style="width:12px;font-size:13px">л</span><span class="fw" style="width:12px;font-size:13px">и</span><span class="fw" style="width:12px;font-size:13px">р</span><span class="fw" style="width:12px;font-size:13px">а</span><span class="fw" style="width:12px;font-size:13px">л</span></div><div class="sw" style="top:231px;background:#59A14F"></div><div style="position:absolute;left:1058px;top:234.5px;font-size:12px;line-height:14px;white-space:nowrap;color:#3a3a3a"><span class="fw" style="width:12px;font-size:12.5px">З</span><span class="fw" style="width:12px;font-size:12.5px">у</span><span class="fw" style="width:12px;font-size:12.5px">н</span></div><div class="sw" style="top:251px;background:#F28E2B"></div><div style="position:absolute;left:1058px;top:254.5px;font-size:12px;line-height:14px;white-space:nowrap;color:#3a3a3a"><span class="fw" style="width:12px;font-size:12.5px">Н</span><span class="fw" style="width:12px;font-size:12.5px">а</span><span class="fw" style="width:12px;font-size:12.5px">м</span><span class="fw" style="width:12px;font-size:12.5px">а</span><span class="fw" style="width:12px;font-size:12.5px">р</span></div><div class="sw" style="top:271px;background:#4E79A7"></div><div style="position:absolute;left:1058.5px;top:274.5px;font-size:12px;line-height:14px;white-space:nowrap">Өвөл</div><div class="sw" style="top:291px;background:#EDC948"></div><div style="position:absolute;left:1058px;top:294.5px;font-size:12px;line-height:14px;white-space:nowrap;color:#3a3a3a"><span class="fw" style="width:12px;font-size:12.5px">Х</span><span class="fw" style="width:12px;font-size:12.5px">а</span><span class="fw" style="width:12px;font-size:12.5px">в</span><span class="fw" style="width:12px;font-size:12.5px">а</span><span class="fw" style="width:12px;font-size:12.5px">р</span></div>
<div id="tb"><svg width="1200" height="27" viewBox="0 0 1200 27" style="position:absolute;left:0;top:0">
<g stroke="#2b2b2b" stroke-width="1.25" fill="none" stroke-linecap="butt">
<path d="M38 13.5H45M41.5 10V17"/>
<path d="M39.7 6H43.3M41.5 4.2V7.8M39.7 20.5H43.3M41.5 18.7V22.3M32.7 13.5H36.3M34.5 11.7V15.3M46.7 13.5H50.3M48.5 11.7V15.3" stroke-width="1.1"/>
<path d="M35 9H40M37.5 6.5V11.5M43 9H48M45.5 6.5V11.5M35 17.5H40M37.5 15V20M43 17.5H48M45.5 15V20" stroke-width="1.15"/>
</g>
<g stroke="#c4c4c4" stroke-width="1.2" fill="none">
<path d="M821.5 8.3H829.3A6.5 6.5 0 0 1 829.3 21.3H821"/>
<path d="M874.5 8.3H866.7A6.5 6.5 0 0 0 866.7 21.3H875"/>
<path d="M902.5 8.3H909.3A6.5 6.5 0 0 1 909.3 21.3H901"/>
<path d="M900.4 6.3V11"/>
<path d="M947.5 9.6H940A4 4 0 0 0 940 17.6H948A4 4 0 0 0 951.6 12"/>
</g>
<g fill="#c4c4c4" stroke="none">
<path d="M819.8 8.3L823.6 5.9V10.7Z"/>
<path d="M876.2 8.3L872.4 5.9V10.7Z"/>
<path d="M901.2 8.3L905 5.9V10.7Z"/>
<path d="M951.3 9.6L947.5 7.2V12Z"/>
<path d="M965.8 11.8H974.2L970 16.8Z" fill="#bdbdbd"/>
</g>
<path d="M995.5 7V20" stroke="#a6a6a6" stroke-width="1"/>
<g stroke="#555" stroke-width="1.3" fill="none">
<path d="M1027 15.6H1023.6A1.2 1.2 0 0 1 1022.4 14.4V8.1A1.2 1.2 0 0 1 1023.6 6.9H1035.2A1.2 1.2 0 0 1 1036.4 8.1V14.4A1.2 1.2 0 0 1 1035.2 15.6H1031.8"/>
<path d="M1029.4 12V20.5"/>
<path d="M1078.2 6.9H1074.6A1.2 1.2 0 0 0 1073.4 8.1V11.6M1083.4 6.9H1087A1.2 1.2 0 0 1 1088.2 8.1V11.6M1078.2 21.1H1074.6A1.2 1.2 0 0 1 1073.4 19.9V16.4M1083.4 21.1H1087A1.2 1.2 0 0 0 1088.2 19.9V16.4"/>
<rect x="1076.7" y="9.9" width="8.2" height="8.2" rx="0.8"/>
<circle cx="1122.9" cy="9.2" r="2.3"/><circle cx="1113.9" cy="13.9" r="2.3"/><circle cx="1122.9" cy="18.8" r="2.3"/>
<path d="M1115.9 12.8L1120.9 10.3M1115.9 15L1120.9 17.7"/>
</g>
<g fill="#555" stroke="none">
<path d="M1026.9 18.7H1031.9L1029.4 21.9Z"/>
<path d="M1042.4 11.8H1049.6L1046 16.8Z"/>
</g>
</svg>
<div style="position:absolute;top:6.5px;font-size:12.3px;line-height:15px;color:#666;white-space:nowrap;-webkit-text-stroke:0.35px #666;left:55.2px;letter-spacing:0.0px">View</div>
<div style="position:absolute;top:6.5px;font-size:12.3px;line-height:15px;color:#666;white-space:nowrap;-webkit-text-stroke:0.35px #666;left:86px;letter-spacing:0.15px">on</div>
<div style="position:absolute;top:6.5px;font-size:12.3px;line-height:15px;color:#666;white-space:nowrap;-webkit-text-stroke:0.35px #666;left:103.7px;letter-spacing:0.3px">Tableau</div>
<div style="position:absolute;top:6.5px;font-size:12.3px;line-height:15px;color:#666;white-space:nowrap;-webkit-text-stroke:0.35px #666;left:153px;letter-spacing:0.35px">Public</div>
<div style="position:absolute;top:6.5px;font-size:12.3px;line-height:15px;color:#666;white-space:nowrap;-webkit-text-stroke:0.35px #666;left:1132.5px;letter-spacing:0.2px">Share</div>
</div>
</div></body></html>
